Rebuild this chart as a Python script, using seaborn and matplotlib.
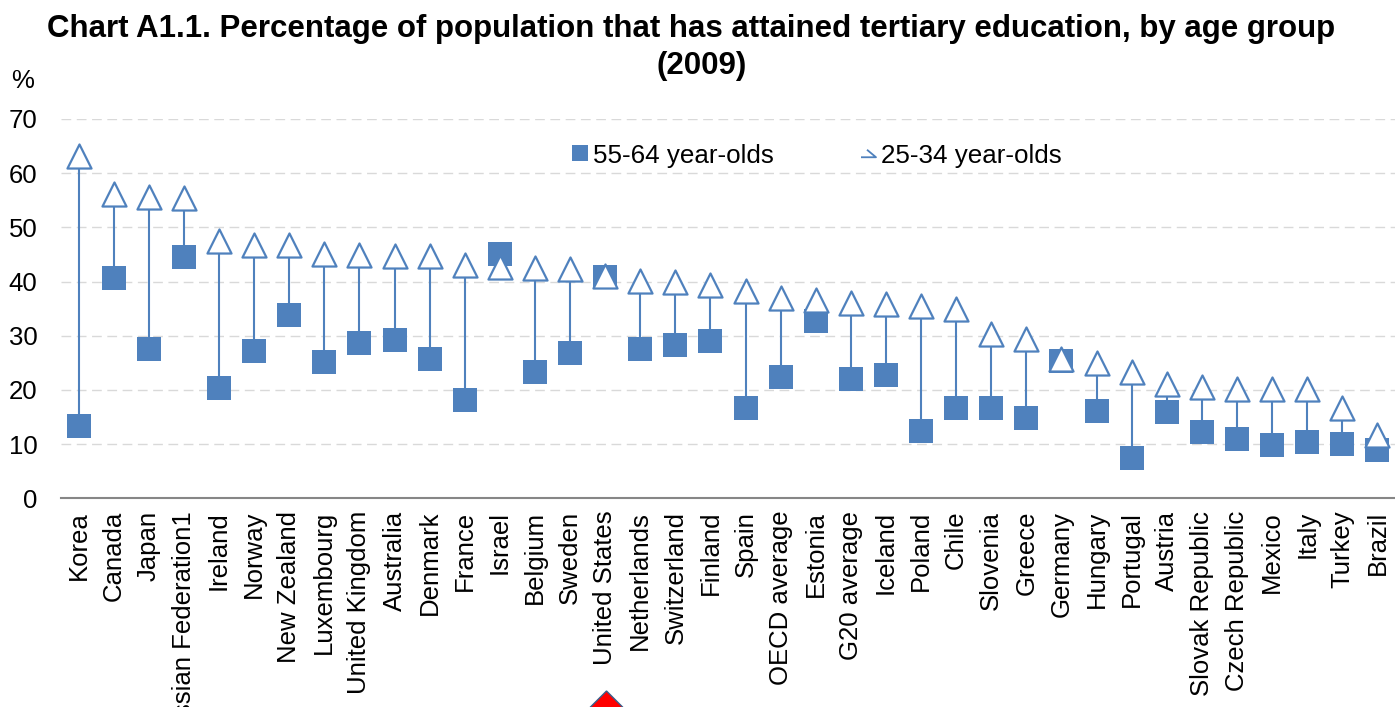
import numpy as np
import pandas as pd
import matplotlib
matplotlib.use("Agg")
import matplotlib.pyplot as plt
from matplotlib.lines import Line2D
from matplotlib.path import Path
from matplotlib.patches import Polygon
import seaborn as sns

# Tertiary attainment by age group, 2009 (%)
countries = [
    "Korea", "Canada", "Japan", "Russian Federation1", "Ireland", "Norway",
    "New Zealand", "Luxembourg", "United Kingdom", "Australia", "Denmark",
    "France", "Israel", "Belgium", "Sweden", "United States", "Netherlands",
    "Switzerland", "Finland", "Spain", "OECD average", "Estonia",
    "G20 average", "Iceland", "Poland", "Chile", "Slovenia", "Greece",
    "Germany", "Hungary", "Portugal", "Austria", "Slovak Republic",
    "Czech Republic", "Mexico", "Italy", "Turkey", "Brazil",
]
age_25_34 = [
    63.1, 56.1, 55.6, 55.4, 47.5, 46.8, 46.7, 45.0, 44.9, 44.8, 44.7,
    43.1, 42.6, 42.5, 42.3, 41.1, 40.1, 40.0, 39.4, 38.2, 37.0, 36.6,
    36.0, 35.8, 35.4, 34.9, 30.4, 29.4, 25.7, 25.0, 23.3, 21.1, 20.6,
    20.2, 20.2, 20.2, 16.6, 11.6,
]
age_55_64 = [
    13.3, 40.6, 27.5, 44.5, 20.3, 27.1, 33.8, 25.1, 28.6, 29.3, 25.8,
    18.1, 45.0, 23.4, 26.9, 40.8, 27.5, 28.2, 29.0, 16.6, 22.3, 32.8,
    22.1, 22.7, 12.5, 16.6, 16.6, 14.9, 25.3, 16.2, 7.4, 15.9, 12.2,
    10.9, 9.8, 10.3, 10.0, 8.9,
]
y_ticks = [0, 10, 20, 30, 40, 50, 60, 70]
label_old = "55-64 year-olds"
label_young = "25-34 year-olds"

df = pd.DataFrame({"country": countries, "young": age_25_34, "old": age_55_64})

BLUE = "#4F81BD"
W, H, DPI = 1395, 707, 100

sns.set_theme(style="white")
plt.rcParams["font.family"] = ["Liberation Sans", "DejaVu Sans"]
plt.rcParams["text.color"] = "black"

fig = plt.figure(figsize=(W / DPI, H / DPI), dpi=DPI)
ax = fig.add_axes([61 / W, 1 - 498.3 / H, 1 - 61 / W, (498.3 - 119) / H])

# Range lines between the two age groups
x_pos = np.arange(len(countries))
ax.vlines(x_pos, df["old"], df["young"], color=BLUE, linewidth=1.5, zorder=2)

sns.scatterplot(data=df, x="country", y="old", marker="s", s=318,
                color=BLUE, edgecolor=BLUE, linewidth=0, ax=ax, zorder=3,
                legend=False)
sns.scatterplot(data=df, x="country", y="young", marker="^", s=300,
                facecolor="white", edgecolor=BLUE, linewidth=1.6, ax=ax,
                zorder=4, legend=False)

ax.set_xlim(-0.5, len(countries) - 0.5)
ax.set_ylim(0, 70)
ax.set_yticks(y_ticks)
ax.set_yticklabels([str(t) for t in y_ticks])
ax.set_xlabel("")
ax.set_ylabel("")

ax.yaxis.grid(True, color="#D9D9D9", linestyle=(0, (7, 4)), linewidth=1.0)
ax.xaxis.grid(False)
ax.set_axisbelow(True)
for side in ["left", "right", "top"]:
    ax.spines[side].set_visible(False)
ax.spines["bottom"].set_color("#868686")
ax.spines["bottom"].set_linewidth(1.5)
ax.spines["bottom"].set_zorder(5)

ax.tick_params(axis="y", length=0, pad=17, labelsize=18.5, labelcolor="black")
ax.tick_params(axis="x", length=0, pad=9, labelsize=18.5, labelcolor="black",
               labelrotation=90)
for lbl in ax.get_xticklabels():
    lbl.set_verticalalignment("top")
    lbl.set_horizontalalignment("center")

# Legend
open_tri = Path([(-1, -0.5), (1, -0.5), (-0.2, 0.5)],
                [Path.MOVETO, Path.LINETO, Path.LINETO])
handles = [
    Line2D([], [], linestyle="none", marker="s", markersize=12.2,
           markerfacecolor=BLUE, markeredgewidth=0, color=BLUE),
    Line2D([], [], linestyle="none", marker=open_tri, markersize=10.8,
           markerfacecolor="none", markeredgecolor=BLUE, markeredgewidth=1.3),
]
ax.legend(handles, [label_old, label_young], ncol=2, frameon=False,
          loc="center left", bbox_to_anchor=(570.5 / W, 1 - 155.5 / H),
          bbox_transform=fig.transFigure, borderpad=0, borderaxespad=0,
          handlelength=0.7, handletextpad=0.15, columnspacing=3.3,
          fontsize=18.7, labelcolor="black")

# Title and unit label
title_kw = dict(ha="center", va="baseline", fontsize=22.5, fontweight="bold",
                color="black")
fig.text(691 / W, 1 - 36.7 / H,
         "Chart A1.1. Percentage of population that has attained tertiary "
         "education, by age group", **title_kw)
fig.text(702 / W, 1 - 74 / H, "(2009)", **title_kw)
fig.text(22.5 / W, 1 - 81 / H, "%", ha="center", va="center", fontsize=18.5,
         color="black")

# Highlight marker beneath the United States label
cx, cy, r = 606.5, 708.5, 17.5
diamond = Polygon([(cx / W, 1 - (cy - r) / H), ((cx + r) / W, 1 - cy / H),
                   (cx / W, 1 - (cy + r) / H), ((cx - r) / W, 1 - cy / H)],
                  closed=True, transform=fig.transFigure, facecolor="#FF0000",
                  edgecolor="#385D8A", linewidth=1.0, zorder=10)
fig.add_artist(diamond)

fig.savefig("out.png", dpi=DPI, facecolor="white")
